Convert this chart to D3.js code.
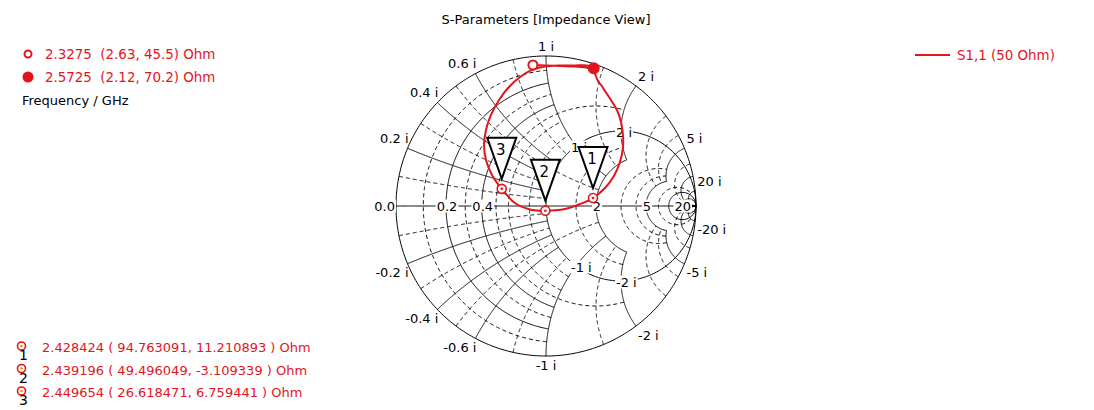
<!DOCTYPE html>
<html><head><meta charset="utf-8">
<script src="https://cdn.jsdelivr.net/npm/d3@7"></script>
<style>
html,body{margin:0;padding:0;background:#fff;}
svg{display:block;font-family:"DejaVu Sans",Verdana,sans-serif;}
text{white-space:pre;}
</style></head><body>
<svg id="chart" width="1094" height="410"></svg>
<script>
// ---------------- data ----------------
const chartTitle = "S-Parameters [Impedance View]";
const seriesName = "S1,1 (50 Ohm)";
const refImpedance = 50;
const s11Re = [-0.087,-0.007,0.093,0.193,0.280,0.320,0.338,0.352,0.367,0.393,0.433,0.473,0.500,0.513,0.513,0.493,0.453,0.393,0.313,0.227,0.127,-0.004,-0.107,-0.207,-0.295,-0.360,-0.400,-0.413,-0.400,-0.367,-0.313,-0.247,-0.173,-0.093,-0.007,0.093,0.193,0.273,0.318];
const s11Im = [0.940,0.937,0.933,0.930,0.920,0.893,0.853,0.823,0.807,0.767,0.707,0.640,0.560,0.473,0.387,0.293,0.200,0.120,0.053,0.013,-0.020,-0.031,-0.023,0.020,0.114,0.207,0.307,0.407,0.507,0.607,0.707,0.793,0.860,0.907,0.930,0.937,0.937,0.937,0.918];
// first / last point of the sweep
const endFreq = ["2.3275","2.5725"];
const endR = [2.63, 2.12];
const endX = [45.5, 70.2];
// markers
const markerIds = ["1","2","3"];
const markerFreq = ["2.428424","2.439196","2.449654"];
const markerRText = ["94.763091","49.496049","26.618471"];
const markerXText = ["11.210893","-3.109339","6.759441"];
// grid ticks
const rTickValues = [0, 0.2, 0.4, 2, 5, 20];
const rTickLabels = ["0.0","0.2","0.4","2","5","20"];
const xTickValues = [0.2,0.4,0.6,1,2,5,20,-0.2,-0.4,-0.6,-1,-2,-5,-20];
const innerXTicks = [1,2,-1,-2];
const rGridMajor = [0.2,0.4,1,2,5,10,20];
const rGridMinor = [0.1,0.3,0.5,0.6,0.8,1.5,3,4,7];
const xGridMajor = [0.2,0.4,0.6,1,2,5,10,20];
const xGridMinor = [0.1,0.3,0.5,0.8,1.5,3,4,7];

// ---------------- drawing ----------------
const RED = "#e3141c";
const svg = d3.select("#chart");
const sx = d3.scaleLinear().domain([-1,1]).range([396,696]);
const sy = d3.scaleLinear().domain([-1,1]).range([356,56]);
const line = d3.line().x(d=>sx(d[0])).y(d=>sy(d[1]));

function gamma(r, x){ const d=(r+1)*(r+1)+x*x; return [(r*r+x*x-1)/d, 2*x/d]; }
// how far (in the other coordinate) a grid line is drawn
function zoneLimit(v, major){
  if (v < 1) return (major || v === 0.5) ? (major ? 1 : 2) : 1;
  if (v < 2) return 2;
  if (v < 5) return v === 2 ? 2 : 5;
  if (v === 5) return 5;
  if (v < 10) return 20;
  return Infinity;
}
function rPath(r, xmax){
  const t = Math.atan(xmax===Infinity?1e9:xmax), pts=[];
  for(let i=0;i<=400;i++){ const th=-t+2*t*i/400; pts.push(gamma(r, Math.tan(th))); }
  return line(pts);
}
function xPath(x, rmax){
  const t = Math.atan(rmax===Infinity?1e9:rmax), pts=[];
  for(let i=0;i<=400;i++){ pts.push(gamma(Math.tan(t*i/400), x)); }
  return line(pts);
}

const grid = svg.append("g").attr("fill","none").attr("stroke","#000").attr("stroke-width",1);
rGridMinor.forEach(r=>grid.append("path").attr("d",rPath(r,zoneLimit(r,false))).attr("stroke-dasharray","4,3"));
xGridMinor.forEach(x=>{[x,-x].forEach(v=>grid.append("path").attr("d",xPath(v,zoneLimit(x,false))).attr("stroke-dasharray","4,3"));});
rGridMajor.forEach(r=>grid.append("path").attr("d",rPath(r,r===1?Infinity:zoneLimit(r,true))));
xGridMajor.forEach(x=>{[x,-x].forEach(v=>grid.append("path").attr("d",xPath(v,zoneLimit(x,true))));});
grid.append("path").attr("d",xPath(0,Infinity));
grid.append("path").attr("d",rPath(0,Infinity));

const labels = svg.append("g").attr("font-size",13).attr("fill","#000");
function bgText(x,y,txt,anchor){
  const g = labels.append("g");
  const t = g.append("text").attr("x",x).attr("y",y).attr("text-anchor",anchor).attr("dominant-baseline","central").text(txt);
  const b = t.node().getBBox();
  g.insert("rect","text").attr("x",b.x-1).attr("y",b.y+1).attr("width",b.width+2).attr("height",b.height-2).attr("fill","#fff");
}
// axis (resistance) labels
rTickValues.forEach((r,i)=>{
  const g = gamma(r,0);
  if (r===0) bgText(sx(g[0])-1, sy(0), rTickLabels[i], "end");
  else bgText(sx(g[0])+1, sy(0), rTickLabels[i], "middle");
});
// rim (reactance) labels
xTickValues.forEach(x=>{
  const g = gamma(0,x);
  const anchor = Math.abs(g[0])<0.01 ? "middle" : (g[0]>0 ? "start":"end");
  const dx = Math.abs(g[0])<0.01 ? 0 : (g[0]>0 ? 2 : 1);
  const dy = g[1]>0 ? -10 : 9;
  labels.append("text").attr("x",sx(g[0])+dx).attr("y",sy(g[1])+dy).attr("text-anchor",anchor)
    .attr("dominant-baseline","central").text(x+" i");
});
// labels along r = 1
innerXTicks.forEach(x=>{
  const g = gamma(1,x);
  bgText(sx(g[0])-5, sy(g[1])+1, x+" i", "start");
});

// trace
const trace = s11Re.map((v,i)=>[v,s11Im[i]]);
svg.append("path").attr("d",d3.line().x(d=>sx(d[0])).y(d=>sy(d[1])).curve(d3.curveCatmullRom)(trace))
  .attr("fill","none").attr("stroke",RED).attr("stroke-width",2);

// start/end symbols
endFreq.forEach((f,i)=>{
  const g = gamma(endR[i]/refImpedance, endX[i]/refImpedance);
  svg.append("circle").attr("cx",sx(g[0])).attr("cy",sy(g[1])).attr("r",i===0?4.5:5)
    .attr("fill",i===0?"#fff":RED).attr("stroke",RED).attr("stroke-width",2);
});

// markers
markerIds.forEach((id,i)=>{
  const g = gamma(+markerRText[i]/refImpedance, +markerXText[i]/refImpedance);
  const px = sx(g[0]), py = sy(g[1]);
  svg.append("path").attr("d",`M${px-14.5},${py-51}L${px+14.5},${py-51}L${px},${py-10}Z`)
    .attr("fill","#fff").attr("stroke","#000").attr("stroke-width",2).attr("stroke-linejoin","miter");
  svg.append("text").attr("x",px-1).attr("y",py-34).attr("text-anchor","middle").attr("font-size",15).text(id);
  svg.append("circle").attr("cx",px).attr("cy",py).attr("r",4.5).attr("fill","#fff").attr("stroke",RED).attr("stroke-width",1.6);
  svg.append("circle").attr("cx",px).attr("cy",py).attr("r",1.3).attr("fill",RED);
});

// title
svg.append("text").attr("x",546).attr("y",24).attr("text-anchor","middle").attr("font-size",13).text(chartTitle);

// top-left legend
endFreq.forEach((f,i)=>{
  const y = 54 + i*23;
  svg.append("circle").attr("cx",28).attr("cy",y).attr("r",i===0?3.5:4.5)
    .attr("fill",i===0?"#fff":RED).attr("stroke",RED).attr("stroke-width",2);
  svg.append("text").attr("x",45).attr("y",y+5).attr("font-size",13.4).attr("fill",RED)
    .text(`${f}  (${endR[i]}, ${endX[i]}) Ohm`);
});
svg.append("text").attr("x",22).attr("y",105).attr("font-size",13).attr("fill","#000").text("Frequency / GHz");

// bottom-left marker table
markerIds.forEach((id,i)=>{
  const y = 346 + i*22.5;
  svg.append("circle").attr("cx",21.5).attr("cy",y).attr("r",4).attr("fill","#fff").attr("stroke",RED).attr("stroke-width",1.6);
  svg.append("circle").attr("cx",21.5).attr("cy",y).attr("r",1.3).attr("fill","#d9a000");
  svg.append("text").attr("x",23.5).attr("y",y+14).attr("text-anchor","middle").attr("font-size",14).attr("fill","#000").text(id);
  svg.append("text").attr("x",42).attr("y",y+6).attr("font-size",13).attr("fill",RED)
    .text(`${markerFreq[i]} ( ${markerRText[i]}, ${markerXText[i]} ) Ohm`);
});

// right legend
svg.append("line").attr("x1",915).attr("x2",950).attr("y1",55).attr("y2",55).attr("stroke",RED).attr("stroke-width",2);
svg.append("text").attr("x",957).attr("y",60).attr("font-size",13.4).attr("fill",RED).text(seriesName);
</script>
</body></html>
